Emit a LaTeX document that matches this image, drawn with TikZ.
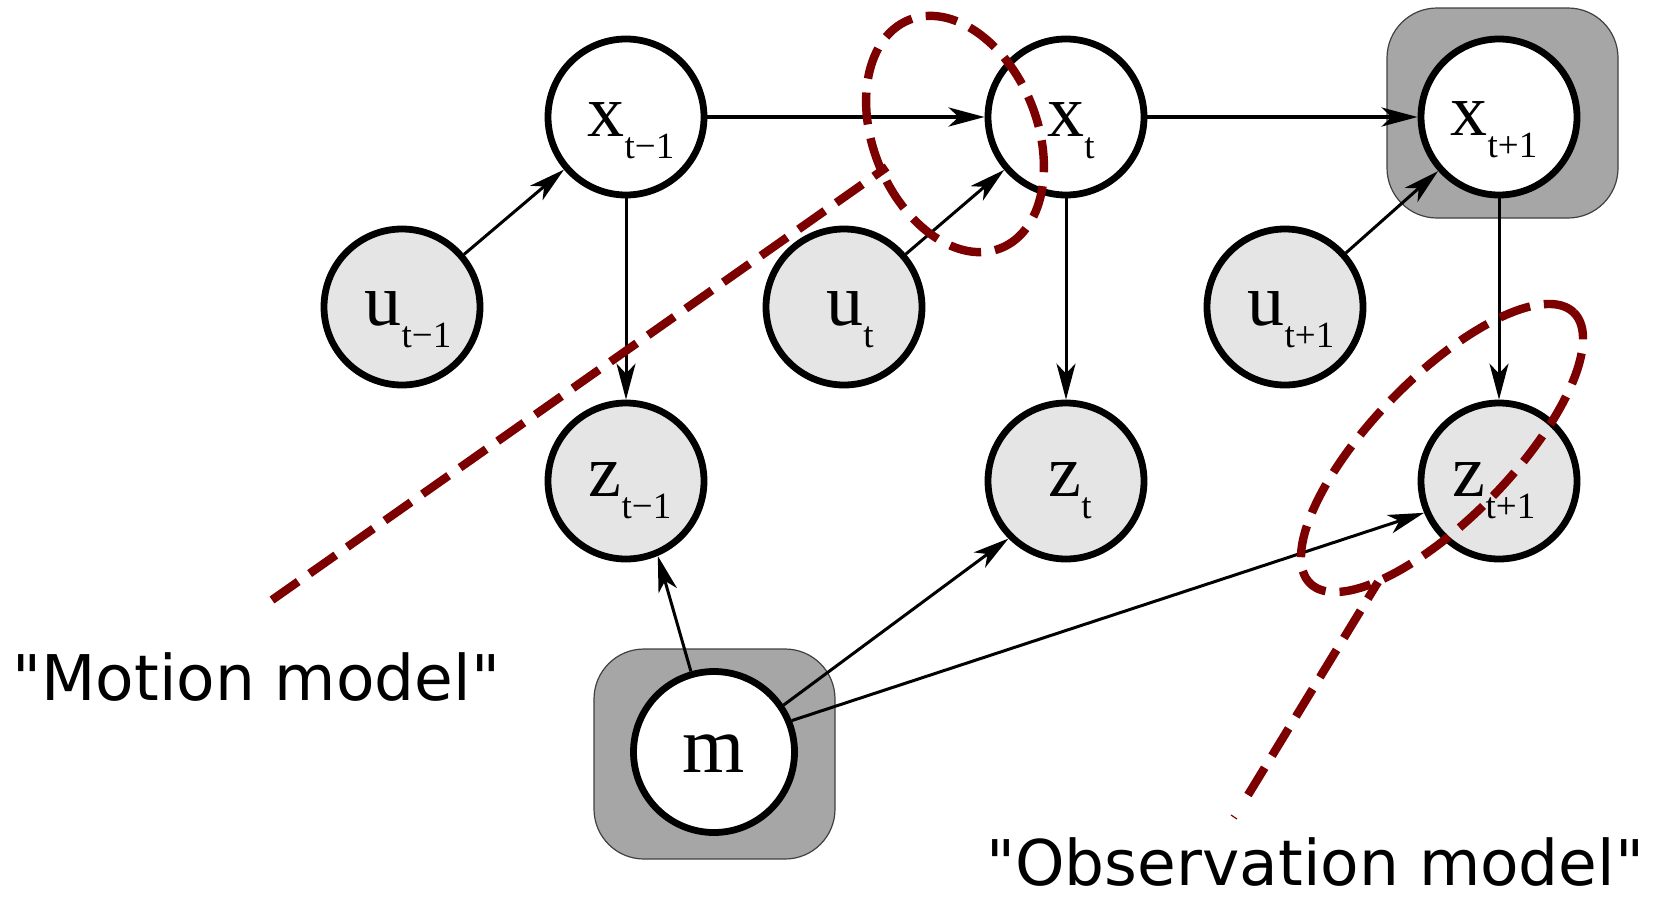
\documentclass[tikz,border=0pt]{standalone}
\usepackage{fontspec}
\usetikzlibrary{arrows.meta}
\newfontfamily\lserif{Liberation Serif}
\newfontfamily\dvsans{DejaVu Sans}
\definecolor{dred}{RGB}{125,0,0}
\definecolor{boxgray}{RGB}{166,166,166}
\definecolor{nodegray}{RGB}{229,229,229}
\newcommand{\nlab}[2]{{\fontsize{37}{37}\selectfont #1}\raisebox{-11pt}{\fontsize{18.5}{18.5}\selectfont #2}}
\begin{document}
\begin{tikzpicture}[x=0.5pt,y=-0.5pt,
  pnode/.style={circle, draw=black, line width=3.4pt, minimum size=78pt, inner sep=0pt},
  obsnode/.style={pnode, fill=nodegray},
  hidnode/.style={pnode, fill=white},
  lbl/.style={anchor=base, inner sep=0pt, font=\lserif},
  plate/.style={fill=boxgray, draw=black!75, line width=0.6pt, rounded corners=25pt},
  edge/.style={line width=1.5pt, -{Stealth[length=18pt,width=9.5pt,inset=5pt]}},
  hedge/.style={edge, line width=2pt},
  redd/.style={draw=dred, line width=4.2pt, dash pattern=on 16pt off 7pt},
  captxt/.style={font=\dvsans\fontsize{31.5}{31.5}\selectfont, anchor=base west, inner sep=0pt}
]
\useasboundingbox (0,0) rectangle (1658,900);

% plates
\draw[plate] (1387,8) rectangle (1618,218);
\draw[plate] (594,649) rectangle (835,859);

% nodes
\node[hidnode] (x1) at (626,117) {};
\node[hidnode] (x2) at (1066,117) {};
\node[hidnode] (x3) at (1499,117) {};
\node[obsnode] (u1) at (402,307) {};
\node[obsnode] (u2) at (844,307) {};
\node[obsnode] (u3) at (1285,307) {};
\node[obsnode] (z1) at (626,481) {};
\node[obsnode] (z2) at (1066,481) {};
\node[obsnode] (z3) at (1499,481) {};
\node[hidnode, minimum size=80.5pt] (m) at (714,752) {};

% labels
\node[lbl] (x1t) at (631,136) {\nlab{x}{t−1}};
\node[lbl] (x2t) at (1071,136) {\nlab{x}{t}};
\node[lbl] (x3t) at (1494,135) {\nlab{x}{t+1}};
\node[lbl] (u1t) at (408,325) {\nlab{u}{t−1}};
\node[lbl] (u2t) at (850,325) {\nlab{u}{t}};
\node[lbl] (u3t) at (1291,325) {\nlab{u}{t+1}};
\node[lbl] (z1t) at (630,496) {\nlab{z}{t−1}};
\node[lbl] (z2t) at (1070,496) {\nlab{z}{t}};
\node[lbl] (z3t) at (1494,496) {\nlab{z}{t+1}};
\node[lbl] (mt) at (714,772) {\fontsize{40}{40}\selectfont m};

% edges
\draw[hedge] (x1) -- (x2);
\draw[hedge] (x2) -- (x3);
\draw[edge] (u1) -- (x1);
\draw[edge] (u2) -- (x2);
\draw[edge] (u3) -- (x3);
\draw[edge] (x1) -- (z1);
\draw[edge] (x2) -- (z2);
\draw[edge] (x3) -- (z3);
\draw[edge] (m.106) -- (z1.-67);
\draw[edge] (m.34) -- (z2.-135);
\draw[edge] (m.22) -- (z3.-157);

% red dashed annotations
\coordinate (mA) at (272,600);
\coordinate (mB) at (887,167);
\coordinate (oA) at (1248,795);
\coordinate (oB) at (1378,582);
\draw[redd] (mA) -- (mB);
\draw[redd, rotate around={-68:(955,134)}] (955,134) ellipse [x radius=61.5pt, y radius=41pt];
\draw[redd] (oA) -- (oB);
\draw[redd, rotate around={45.8:(1442,448)}] (1442,448) ellipse [x radius=94.5pt, y radius=35pt];
\coordinate (aA) at (1231,815);
\coordinate (aB) at (1237,819);
\draw[dred, line width=0.6pt] (aA) -- (aB);

% captions
\node[captxt] (mot) at (12,700) {"Motion model"};
\node[captxt] (obs) at (986,885) {"Observation model"};
\end{tikzpicture}
\end{document}
